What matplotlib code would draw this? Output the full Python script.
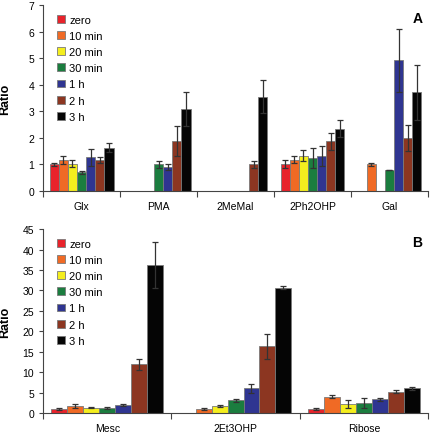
import numpy as np
import matplotlib
matplotlib.use("Agg")
import matplotlib.pyplot as plt
from matplotlib.patches import Patch

plt.rcParams['font.family'] = ['Liberation Sans', 'DejaVu Sans']

series = ["zero", "10 min", "20 min", "30 min", "1 h", "2 h", "3 h"]
colors = ["#e8232b", "#f06a25", "#f4ee1e", "#1b7d3f", "#2f3591", "#8c3621", "#050505"]

cats_a = ["Glx", "PMA", "2MeMal", "2Ph2OHP", "Gal"]
nan = np.nan
vals_a = [
    [1.00, 1.15, 1.02, 0.70, 1.28, 1.17, 1.63],   # Glx
    [nan, nan, nan, 1.00, 0.90, 1.89, 3.09],      # PMA
    [nan, nan, nan, nan, nan, 1.00, 3.55],        # 2MeMal
    [1.00, 1.17, 1.33, 1.25, 1.33, 1.87, 2.35],   # 2Ph2OHP
    [nan, 1.00, nan, 0.80, 4.92, 2.00, 3.72],     # Gal
]
errs_a = [
    [0.07, 0.15, 0.13, 0.05, 0.32, 0.10, 0.18],
    [nan, nan, nan, 0.12, 0.10, 0.56, 0.65],
    [nan, nan, nan, nan, nan, 0.12, 0.62],
    [0.15, 0.13, 0.20, 0.37, 0.38, 0.32, 0.31],
    [nan, 0.04, nan, 0.00, 1.18, 0.50, 1.04],
]

cats_b = ["Mesc", "2Et3OHP", "Ribose"]
vals_b = [
    [1.0, 1.8, 1.3, 1.2, 2.0, 11.9, 36.2],
    [nan, 1.0, 1.7, 3.1, 6.0, 16.3, 30.7],
    [1.0, 4.0, 2.2, 2.4, 3.4, 5.2, 6.0],
]
errs_b = [
    [0.2, 0.5, 0.2, 0.15, 0.2, 1.3, 5.7],
    [nan, 0.2, 0.2, 0.3, 1.0, 3.0, 0.3],
    [0.2, 0.3, 0.9, 1.2, 0.35, 0.35, 0.4],
]

fig = plt.figure(figsize=(4.31, 4.35), dpi=100)


def panel(rect, cats, vals, errs, ymax, ystep, label, span, legend_y):
    ax = fig.add_axes(rect)
    n = len(series)
    w = span / n
    vals = np.array(vals, dtype=float)
    errs = np.array(errs, dtype=float)
    x = np.arange(len(cats))
    for i in range(n):
        pos = x - span / 2 + w * (i + 0.5)
        ax.bar(pos, vals[:, i], width=w, color=colors[i], edgecolor="#7a7a7a",
               linewidth=0.6, zorder=2)
        ax.errorbar(pos, vals[:, i], yerr=errs[:, i], fmt="none", ecolor="#333333",
                    elinewidth=0.9, capsize=2.2, capthick=0.9, zorder=3)
    ax.set_xlim(-0.5, len(cats) - 0.5)
    ax.set_ylim(0, ymax)
    ax.set_yticks(np.arange(0, ymax + 0.001, ystep))
    ax.set_xticks(x)
    ax.set_xticklabels(cats)
    ax.set_xticks(np.arange(-0.5, len(cats)), minor=True)
    ax.tick_params(axis="x", which="major", length=0, labelsize=7.5, pad=7)
    ax.tick_params(axis="x", which="minor", length=4, width=0.8, color="#444444")
    ax.tick_params(axis="y", length=3, width=0.8, labelsize=7.5, color="#444444")
    for s in ["top", "right"]:
        ax.spines[s].set_visible(False)
    for s in ["left", "bottom"]:
        ax.spines[s].set_color("#444444")
        ax.spines[s].set_linewidth(0.8)
    ax.set_ylabel("Ratio", fontsize=9, fontweight="bold")
    ax.yaxis.set_label_coords(-0.083, 0.5)
    ax.text(0.985, 0.93, label, transform=ax.transAxes, ha="right", va="center",
            fontsize=10, fontweight="bold")
    handles = [Patch(facecolor=c, edgecolor="#7a7a7a", linewidth=0.6) for c in colors]
    ax.legend(handles, series, loc="upper left", bbox_to_anchor=(0.02, legend_y),
              frameon=False, fontsize=8, handlelength=0.7, handleheight=0.7,
              handletextpad=0.35, labelspacing=0.56, borderaxespad=0.2)
    return ax


panel([0.1, 0.5586, 0.893, 0.4274], cats_a, vals_a, errs_a, 7, 1, "A", 0.83, 0.985)
panel([0.1, 0.0483, 0.893, 0.4227], cats_b, vals_b, errs_b, 45, 5, "B", 0.87, 0.985)

fig.savefig("out.png", dpi=100)
